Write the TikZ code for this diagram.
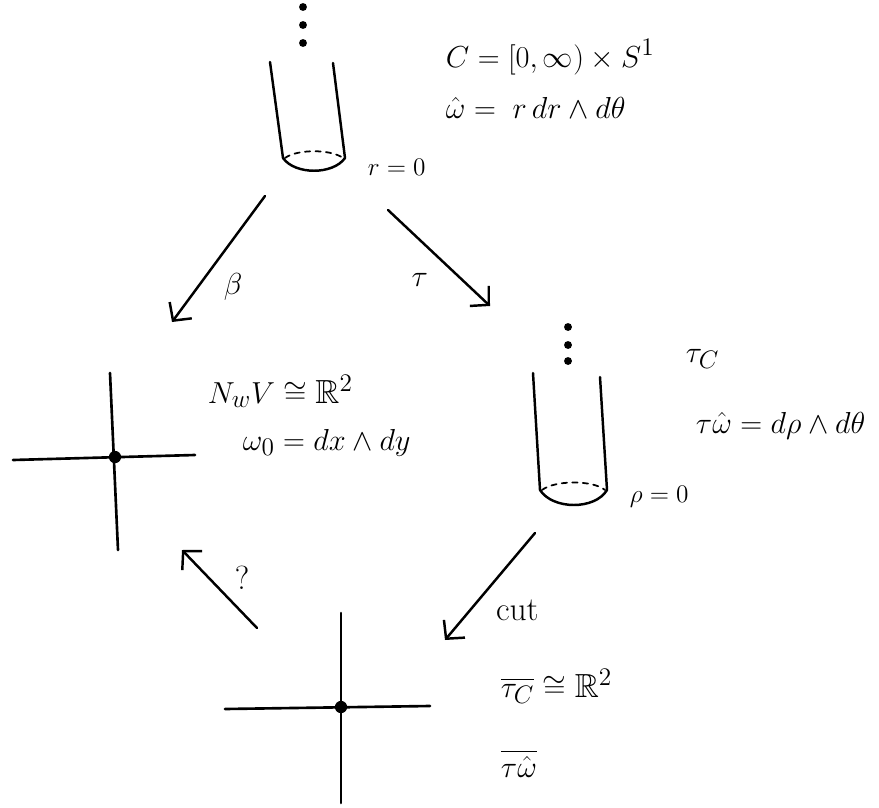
\documentclass[tikz,border=0pt]{standalone}
\usepackage{amsmath,amssymb}
\usetikzlibrary{arrows.meta,positioning}

\begin{document}
\begin{tikzpicture}[
  x=0.02cm, y=-0.02cm,
  >={Straight Barb[length=2.6mm,width=5.5mm]},
  line width=1.4pt, line cap=round, line join=round,
  map/.style={->},
  axis/.style={line width=1.5pt},
  rim/.style={dashed, line width=1pt},
  lab/.style={font=\fontsize{19}{22}\selectfont, inner sep=1pt},
  tag/.style={font=\fontsize{15}{18}\selectfont, inner sep=1pt},
  vdot/.style={circle, fill, inner sep=0pt, minimum size=4.5pt},
  origin/.style={circle, fill, inner sep=0pt, minimum size=7pt}
]
  \useasboundingbox (0,0) rectangle (879,808);

  % half-infinite cylinder C
  \foreach \y in {7,25,43} \node[vdot] (topdot\y) at (303,\y) {};
  \draw (270,62) -- (283,158) .. controls (295,175) and (333,175) .. (345,158) -- (333,63);
  \draw[rim] (285,158) .. controls (297,149) and (331,149) .. (343,158);
  \node[tag, anchor=base west] (rzero) at (365,175) {$r=0$};
  \node[lab, anchor=base west] (cdef) at (443,67) {$C = [0,\infty)\times S^1$};
  \node[lab, anchor=base west] (omhat) at (443,118) {$\hat{\omega} =\; r\,dr\wedge d\theta$};

  % normal plane N_wV
  \draw[axis] (110,373) -- (118,550);
  \draw[axis] (13,460) -- (195,455);
  \node[origin] (nzero) at (115,457) {};
  \node[lab, anchor=base west] (nwv) at (205,403) {$N_w V \cong \mathbb{R}^2$};
  \node[lab, anchor=base west] (omzero) at (240,450) {$\omega_0 = dx\wedge dy$};

  % image cylinder tau_C
  \foreach \y in {327,345,361} \node[vdot] (tdot\y) at (568,\y) {};
  \draw (533,373) -- (540,490) .. controls (553,510) and (595,510) .. (607,490) -- (600,377);
  \draw[rim] (542,490) .. controls (555,480) and (593,480) .. (605,490);
  \node[tag, anchor=base west] (rhozero) at (627,502) {$\rho=0$};
  \node[lab, anchor=base west] (tauc) at (683,362) {$\tau_C$};
  \node[lab, anchor=base west] (tauom) at (693,433) {$\tau\hat{\omega} = d\rho\wedge d\theta$};

  % cut space
  \draw[axis] (341,613) -- (341,803);
  \draw[axis] (225,709) -- (430,706);
  \node[origin] (czero) at (341,707) {};
  \node[lab, anchor=base west] (taubar) at (498,697) {$\overline{\tau_C} \cong \mathbb{R}^2$};
  \node[lab, anchor=base west] (ombar) at (498,777) {$\overline{\tau\hat{\omega}}$};

  % maps
  \coordinate (betaS) at (265,196);
  \coordinate (betaE) at (172,322);
  \coordinate (tauS) at (388,210);
  \coordinate (tauE) at (490,306);
  \coordinate (cutS) at (535,533);
  \coordinate (cutE) at (445,640);
  \coordinate (qS) at (257,628);
  \coordinate (qE) at (182,550);
  \draw[map] (betaS) -- node[lab, pos=.72, right=13pt] (betalab) {$\beta$} (betaE);
  \draw[map] (tauS) -- node[lab, pos=.73, left=18pt] (taulab) {$\tau$} (tauE);
  \draw[map] (cutS) -- node[lab, pos=.72, right=13pt] (cutlab) {cut} (cutE);
  \draw[map] (qS) -- node[lab, pos=.64, right=13pt] (qlab) {?} (qE);
\end{tikzpicture}
\end{document}
